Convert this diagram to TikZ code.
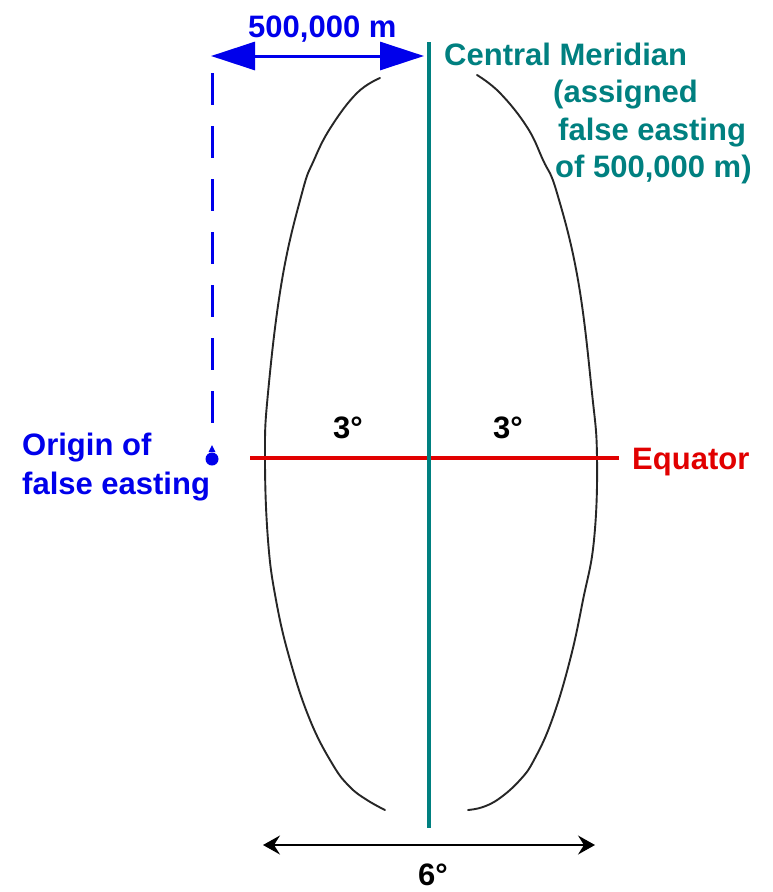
\documentclass[tikz,border=0pt]{standalone}
\usepackage{fontspec}
\setmainfont{Liberation Sans}
\usetikzlibrary{arrows.meta}
\definecolor{cmteal}{RGB}{0,128,128}
\definecolor{myblue}{RGB}{0,0,235}
\definecolor{myred}{RGB}{225,0,0}
\tikzset{
  lbl/.style={inner sep=0pt, anchor=base west, font=\fontsize{31}{37}\selectfont\bfseries},
  arcline/.style={line width=1.9pt, black!85, line cap=round},
  bluearrow/.style={line width=3pt, myblue, {Triangle[length=44pt,width=28pt]}-{Triangle[length=44pt,width=28pt]}},
  blackarrow/.style={line width=1.6pt, black, {Stealth[length=17pt,width=19pt,inset=6pt]}-{Stealth[length=17pt,width=19pt,inset=6pt]}},
}
\begin{document}
\begin{tikzpicture}[x=1pt,y=-1pt]
\useasboundingbox[fill=white] (0,0) rectangle (772,892);

% coordinates
\coordinate (cmT) at (429,42);
\coordinate (cmB) at (429,828);
\coordinate (eqL) at (250,458);
\coordinate (eqR) at (619,458);
\coordinate (dL) at (211,56);
\coordinate (dR) at (424,56);
\coordinate (dashT) at (212,73);
\coordinate (dashB) at (212,423);
\coordinate (orig) at (212,459);
\coordinate (bL) at (263,845);
\coordinate (bR) at (595,845);

% zone boundary arcs
\draw[arcline] plot[smooth, tension=0.7] coordinates {(380,78) (357,93) (331,127) (314,160) (302,193) (282,280) (268,393) (265,458) (268,540) (276,600) (290,660) (310,720) (333,765) (350,787) (367,800) (385,810)};
\draw[arcline] plot[smooth, tension=0.7] coordinates {(477,75) (500,93) (527,127) (543,160) (557,193) (578,280) (592,393) (597,458) (594,540) (583,600) (570,660) (552,720) (534,760) (520,780) (500,798) (483,807) (468,810)};

% equator and central meridian
\draw[line width=4pt, myred] (eqL) -- (eqR);
\draw[line width=4pt, cmteal] (cmT) -- (cmB);

% false easting origin
\draw[line width=3pt, myblue, dash pattern=on 32pt off 21pt] (dashT) -- (dashB);
\fill[myblue] (orig) circle (6.5pt);
\fill[myblue] (208.5,452) -- (215.5,452) -- (212,445) -- cycle;

% arrows
\draw[bluearrow] (dL) -- (dR);
\draw[blackarrow] (bL) -- (bR);

% labels
\node[lbl, text=myblue] (dist) at (248,37) {500,000 m};
\node[lbl, text=cmteal] (cm1) at (444,65) {Central Meridian};
\node[lbl, text=cmteal] (cm2) at (553,102) {(assigned};
\node[lbl, text=cmteal] (cm3) at (558,140) {false easting};
\node[lbl, text=cmteal] (cm4) at (555,177) {of 500,000 m)};
\node[lbl, text=myblue] (or1) at (22,455) {Origin of};
\node[lbl, text=myblue] (or2) at (22,494) {false easting};
\node[lbl, text=myred] (eq) at (632,469) {Equator};
\node[lbl] (d3l) at (333,438) {3°};
\node[lbl] (d3r) at (493,438) {3°};
\node[lbl] (d6) at (418,885) {6°};
\end{tikzpicture}
\end{document}
